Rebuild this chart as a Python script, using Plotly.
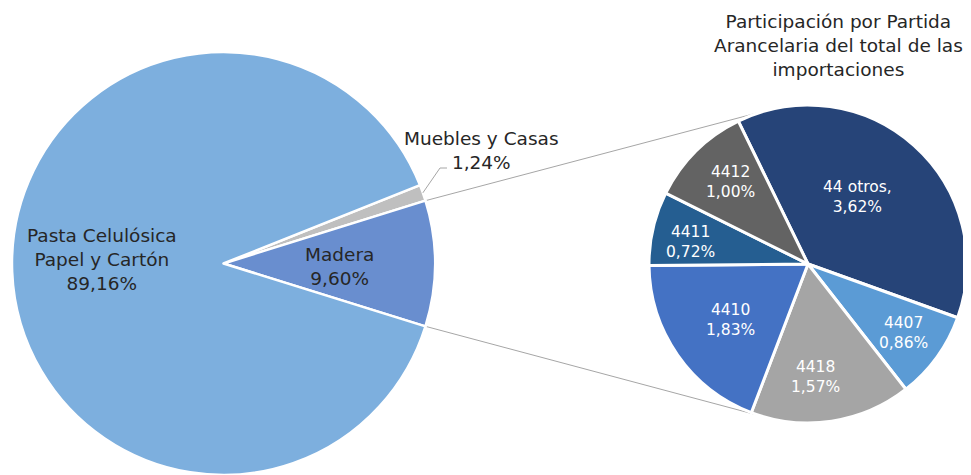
import math
import plotly.graph_objects as go

# ---- data ----
main_labels = ["Muebles y Casas", "Madera", "Pasta Celulósica<br>Papel y Cartón"]
main_values = [1.24, 9.60, 89.16]
main_colors = ["#BFBFBF", "#698ECF", "#7DAFDE"]

sub_labels = ["44 otros,", "4407", "4418", "4410", "4411", "4412"]
sub_values = [3.62, 0.86, 1.57, 1.83, 0.72, 1.00]
sub_colors = ["#264478", "#5B9BD5", "#A5A5A5", "#4472C4", "#255E91", "#636363"]

title_text = "Participación por Partida<br>Arancelaria del total de las<br>importaciones"

# page body has an 8px margin; map page pixels to paper coordinates
OX, OY = 8, 8
W, H = 963, 467
FONT = "DejaVu Sans"

def px(x):
    return (x - OX) / W

def py(y):
    return 1 - (y - OY) / H

def fmt(v):
    return f"{v:.2f}".replace(".", ",") + "%"

# pie geometry (page pixels)
c1 = (223.5, 263.5); r1 = 211.5
c2 = (808.0, 264.0); r2 = 159.0

total1 = sum(main_values)
rot1 = 90 - 360 * (main_values[0] + main_values[1] / 2) / total1

fig = go.Figure()
fig.add_trace(go.Pie(
    labels=main_labels, values=main_values, sort=False, direction="clockwise",
    rotation=rot1, textinfo="none", showlegend=False,
    marker=dict(colors=main_colors, line=dict(color="white", width=2.5)),
    domain=dict(x=[px(c1[0] - r1), px(c1[0] + r1)], y=[max(0, py(c1[1] + r1)), py(c1[1] - r1)]),
))
fig.add_trace(go.Pie(
    labels=sub_labels, values=sub_values, sort=False, direction="clockwise",
    rotation=-26, textinfo="none", showlegend=False,
    marker=dict(colors=sub_colors, line=dict(color="white", width=3)),
    domain=dict(x=[px(c2[0] - r2), px(c2[0] + r2)], y=[py(c2[1] + r2), py(c2[1] - r2)]),
))

# connector lines: from Madera slice outer edge to tangent points of the second pie
half = math.radians(360 * main_values[1] / total1 / 2)
shapes = []
for sgn in (-1, 1):
    P = (c1[0] + r1 * math.cos(half), c1[1] + sgn * r1 * math.sin(half))
    dx, dy = P[0] - c2[0], P[1] - c2[1]
    d = math.hypot(dx, dy)
    th = math.atan2(dy, dx)
    a = math.acos(r2 / d)
    cands = [(c2[0] + r2 * math.cos(th + k * a), c2[1] + r2 * math.sin(th + k * a)) for k in (-1, 1)]
    T = min(cands, key=lambda t: t[1]) if sgn < 0 else max(cands, key=lambda t: t[1])
    shapes.append(dict(type="line", xref="paper", yref="paper", layer="below",
                       x0=px(P[0]), y0=py(P[1]), x1=px(T[0]), y1=py(T[1]),
                       line=dict(color="#A6A6A6", width=1)))

# leader line for Muebles y Casas
mid = math.radians(rot1 + 360 * main_values[0] / total1 / 2)
e = (c1[0] + r1 * math.sin(mid), c1[1] - r1 * math.cos(mid))
shapes.append(dict(type="path", xref="paper", yref="paper",
                   path=f"M {px(e[0])},{py(e[1])} L {px(440)},{py(168)} L {px(447)},{py(168)}",
                   line=dict(color="#A6A6A6", width=1)))

annotations = []
# main pie labels
main_pos = [(481, 150), (339, 266), (102, 260)]
for lab, v, (x, y) in zip(main_labels, main_values, main_pos):
    annotations.append(dict(x=px(x), y=py(y), xref="paper", yref="paper", showarrow=False,
                            xanchor="center", yanchor="middle",
                            text=f"{lab}<br>{fmt(v)}", align="center",
                            font=dict(family=FONT, size=18.5, color="#262626")))
# sub pie labels
sub_pos = [(857, 197), (903, 333), (815, 377), (730, 320), (690, 242), (730, 182)]
for lab, v, (x, y) in zip(sub_labels, sub_values, sub_pos):
    annotations.append(dict(x=px(x), y=py(y), xref="paper", yref="paper", showarrow=False,
                            xanchor="center", yanchor="middle",
                            text=f"{lab}<br>{fmt(v)}", align="center",
                            font=dict(family=FONT, size=15.5, color="white")))
# title
annotations.append(dict(x=px(838), y=py(45), xref="paper", yref="paper", showarrow=False,
                        xanchor="center", yanchor="middle",
                        text=title_text, align="center",
                        font=dict(family=FONT, size=18.5, color="#262626")))

fig.update_layout(
    width=W, height=H, margin=dict(l=0, r=0, t=0, b=0),
    paper_bgcolor="white", plot_bgcolor="white",
    shapes=shapes, annotations=annotations,
)
fig.write_html("out.html")
